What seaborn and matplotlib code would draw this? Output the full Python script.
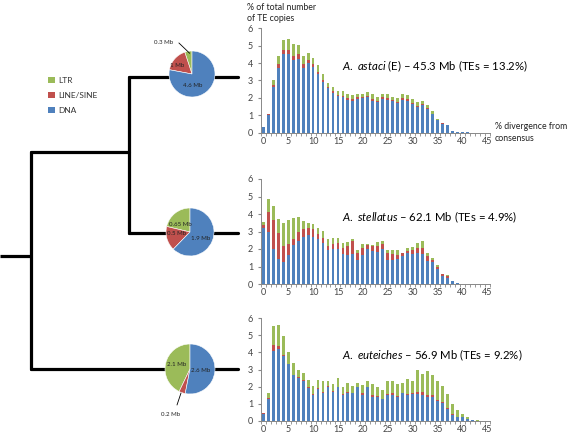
import numpy as np
import pandas as pd
import matplotlib
matplotlib.use("Agg")
import matplotlib.pyplot as plt
import seaborn as sns
from matplotlib.patches import Patch

# ---- data -------------------------------------------------------------
divergence = list(range(46))
classes = ["LTR", "LINE/SINE", "DNA"]
colors = {"LTR": "#9BBB59", "LINE/SINE": "#C0504D", "DNA": "#4F81BD"}

astaci_dna = [0.3, 1.0, 2.6, 3.7, 4.5, 4.5, 4.2, 4.25, 3.7, 4.0, 3.8, 3.35, 2.9, 2.55, 2.3, 2.1,
              2.05, 1.9, 1.85, 1.95, 2.0, 2.05, 1.85, 1.75, 1.95, 1.9, 1.8, 1.7, 1.9, 1.85, 1.65,
              1.5, 1.6, 1.35, 1.05, 0.72, 0.52, 0.43, 0.1, 0.05, 0.05, 0.02, 0.01, 0.01, 0.01, 0.01]
astaci_line = [0, 0.05, 0.15, 0.25, 0.25, 0.25, 0.2, 0.25, 0.25, 0.2, 0.15, 0.15, 0.1, 0.08, 0.08, 0.08,
               0.08, 0.08, 0.08, 0.08, 0.08, 0.08, 0.08, 0.08, 0.08, 0.08, 0.08, 0.08, 0.08, 0.08, 0.08,
               0.06, 0.06, 0.06, 0.05, 0.03, 0.01, 0.01, 0, 0, 0, 0, 0, 0, 0, 0]
astaci_ltr = [0, 0.05, 0.25, 0.45, 0.55, 0.65, 0.7, 0.55, 0.45, 0.4, 0.35, 0.4, 0.35, 0.22, 0.27, 0.22,
              0.27, 0.22, 0.22, 0.22, 0.17, 0.22, 0.32, 0.22, 0.17, 0.22, 0.17, 0.22, 0.27, 0.22, 0.22,
              0.19, 0.19, 0.19, 0.15, 0.05, 0.02, 0.01, 0, 0, 0, 0, 0, 0, 0, 0]

stellatus_dna = [3.2, 3.0, 2.0, 1.45, 1.25, 1.65, 2.25, 2.45, 2.7, 2.8, 2.7, 2.55, 2.35, 1.95, 2.0, 2.0,
                 1.7, 1.65, 1.7, 1.4, 1.65, 2.0, 1.9, 1.85, 2.0, 1.4, 1.4, 1.45, 1.6, 1.8, 1.7,
                 1.8, 1.7, 1.3, 1.25, 0.85, 0.45, 0.35, 0.15, 0.04, 0.02, 0.01, 0.01, 0.01, 0.01, 0.01]
stellatus_line = [0.2, 1.1, 1.65, 1.45, 0.95, 0.65, 0.3, 0.5, 0.45, 0.4, 0.45, 0.3, 0.3, 0.25, 0.3, 0.35,
                  0.35, 0.5, 0.75, 0.4, 0.4, 0.25, 0.3, 0.3, 0.3, 0.35, 0.3, 0.2, 0.15, 0.1, 0.25,
                  0.25, 0.35, 0.3, 0.15, 0.15, 0.1, 0.1, 0.03, 0, 0, 0, 0, 0, 0, 0]
stellatus_ltr = [0.15, 0.75, 0.8, 0.8, 1.3, 1.35, 1.2, 0.9, 0.45, 0.3, 0.3, 0.35, 0.4, 0.4, 0.35, 0.3,
                 0.3, 0.25, 0.15, 0.15, 0.25, 0.05, 0.05, 0.25, 0.15, 0.2, 0.25, 0.3, 0.05, 0.15, 0.15,
                 0.3, 0.4, 0.2, 0.1, 0.1, 0.05, 0.05, 0.02, 0, 0, 0, 0, 0, 0, 0]

euteiches_dna = [0.4, 1.25, 4.1, 4.2, 3.8, 3.3, 2.65, 2.5, 2.35, 1.9, 1.5, 1.85, 1.65, 2.0, 1.7, 1.95,
                 1.5, 1.6, 1.6, 1.95, 1.5, 1.95, 1.4, 1.4, 1.25, 1.5, 1.5, 1.4, 1.6, 1.5, 1.55,
                 1.55, 1.5, 1.4, 1.4, 1.15, 1.05, 0.7, 0.35, 0.2, 0.2, 0.1, 0.03, 0.01, 0.01, 0.01]
euteiches_line = [0.05, 0.1, 0.35, 0.15, 0.05, 0.05, 0.05, 0.05, 0.05, 0.05, 0.05, 0.05, 0.05, 0.05, 0.05, 0.05,
                  0.07, 0.07, 0.05, 0.05, 0.1, 0.05, 0.1, 0.05, 0.05, 0.07, 0.1, 0.05, 0.05, 0.05, 0.05,
                  0.15, 0.2, 0.1, 0.1, 0.05, 0.05, 0.03, 0.02, 0.01, 0.01, 0, 0, 0, 0, 0]
euteiches_ltr = [0, 0.3, 1.1, 1.25, 1.1, 0.65, 0.7, 0.45, 0.4, 0.45, 0.5, 0.5, 0.6, 0.3, 0.4, 0.5,
                 0.43, 0.53, 0.4, 0.2, 0.5, 0.35, 0.65, 0.55, 0.5, 0.73, 0.75, 0.7, 0.55, 0.9, 0.7,
                 1.3, 1.05, 1.4, 1.15, 1.1, 0.95, 0.82, 0.58, 0.39, 0.19, 0.1, 0.02, 0.01, 0, 0]

# genome share in Mb per class (LTR, LINE/SINE, DNA)
astaci_mb = [0.3, 1.0, 4.6]
stellatus_mb = [0.65, 0.5, 1.9]
euteiches_mb = [2.1, 0.2, 2.6]
astaci_pie_labels = ["0.3 Mb", "1 Mb", "4.6 Mb"]
stellatus_pie_labels = ["0.65 Mb", "0.5 Mb", "1.9 Mb"]
euteiches_pie_labels = ["2.1 Mb", "0.2 Mb", "2.6 Mb"]

titles = [r"$\mathit{A.\ astaci}$ (E) – 45.3 Mb (TEs = 13.2%)",
          r"$\mathit{A.\ stellatus}$ – 62.1 Mb (TEs = 4.9%)",
          r"$\mathit{A.\ euteiches}$ – 56.9 Mb (TEs = 9.2%)"]

# ---- style ------------------------------------------------------------
sns.set_style("white")
plt.rcParams["font.family"] = ["Lato", "DejaVu Sans"]
plt.rcParams["mathtext.fontset"] = "custom"
plt.rcParams["mathtext.it"] = "Lato:italic"
plt.rcParams["mathtext.rm"] = "Lato"

W, H = 567, 437
fig = plt.figure(figsize=(W / 100, H / 100), dpi=100)

# background axes in pixel units for tree, legend and labels
bg = fig.add_axes([0, 0, 1, 1], zorder=0)
bg.set_xlim(0, W)
bg.set_ylim(H, 0)
bg.axis("off")

# tree (pixel layout)
tip_y = [77, 233, 369]
inner_x, root_x, tip_x = 129, 31, 238
inner_y = 152
root_y = 256
lw = 2.3
bg.plot([0, root_x], [root_y, root_y], color="black", lw=lw, solid_capstyle="butt")
bg.plot([root_x, root_x], [inner_y, tip_y[2]], color="black", lw=lw)
bg.plot([root_x, inner_x], [inner_y, inner_y], color="black", lw=lw)
bg.plot([inner_x, inner_x], [tip_y[0], tip_y[1]], color="black", lw=lw)
bg.plot([inner_x, tip_x], [tip_y[0], tip_y[0]], color="black", lw=lw)
bg.plot([inner_x, tip_x], [tip_y[1], tip_y[1]], color="black", lw=lw)
bg.plot([root_x, tip_x], [tip_y[2], tip_y[2]], color="black", lw=lw)

# legend
handles = [Patch(facecolor=colors[c], edgecolor="none", label=c) for c in classes]
fig.legend(handles=handles, loc="upper left", bbox_to_anchor=(48 / W, 1 - 77 / H),
           frameon=False, fontsize=6.0, handlelength=0.8, handleheight=0.8,
           handletextpad=0.4, labelspacing=0.95, borderpad=0, borderaxespad=0,
           labelcolor="#333333")

# pies: centre / radius in pixels, label positions in pie units, leader lines
pie_specs = [
    (astaci_mb, astaci_pie_labels, (192, 74), 23,
     [(-1.25, 1.35), (-0.65, 0.35), (0.04, -0.48)], {0: ((-0.57, 1.35), (-0.1, 0.9))}),
    (stellatus_mb, stellatus_pie_labels, (190, 232), 24,
     [(-0.42, 0.33), (-0.58, -0.08), (0.46, -0.25)], {}),
    (euteiches_mb, euteiches_pie_labels, (190, 369), 25,
     [(-0.52, 0.16), (-0.76, -1.8), (0.44, -0.04)], {1: ((-0.52, -1.44), (-0.36, -0.96))}),
]
for sizes, labels, (cx, cy), r, label_pos, leaders in pie_specs:
    pax = fig.add_axes([(cx - r) / W, 1 - (cy + r) / H, 2 * r / W, 2 * r / H], zorder=2)
    pax.pie(sizes, colors=[colors[c] for c in classes], startangle=90, counterclock=True,
            radius=1, wedgeprops=dict(linewidth=0.4, edgecolor="white"))
    pax.set_xlim(-1, 1)
    pax.set_ylim(-1, 1)
    for lab, (px, py) in zip(labels, label_pos):
        pax.text(px, py, lab, fontsize=4.4, ha="center", va="center", color="#222222")
    for a, b in leaders.values():
        pax.plot([a[0], b[0]], [a[1], b[1]], color="black", lw=0.6, clip_on=False)

# bar panels
panels = [
    (astaci_dna, astaci_line, astaci_ltr, 132.7, 104.4),
    (stellatus_dna, stellatus_line, stellatus_ltr, 284.0, 105.0),
    (euteiches_dna, euteiches_line, euteiches_ltr, 420.7, 102.4),
]
left_px, width_px = 260.7, 229.3
for k, (dna, line, ltr, base_px, h_px) in enumerate(panels):
    ax = fig.add_axes([left_px / W, 1 - base_px / H, width_px / W, h_px / H], zorder=1)
    df = pd.DataFrame({"div": divergence, "DNA": dna, "LINE/SINE": line, "LTR": ltr})
    df["top_ltr"] = df["DNA"] + df["LINE/SINE"] + df["LTR"]
    df["top_line"] = df["DNA"] + df["LINE/SINE"]
    for col, cls in [("top_ltr", "LTR"), ("top_line", "LINE/SINE"), ("DNA", "DNA")]:
        sns.barplot(data=df, x="div", y=col, color=colors[cls], saturation=1,
                    width=0.58, errorbar=None, ax=ax, order=divergence,
                    linewidth=0, edgecolor="none")
    ax.set_xlim(-0.5, 45.5)
    ax.set_ylim(0, 6)
    ax.set_yticks(range(0, 7))
    ax.set_xticks(range(0, 46, 5))
    ax.set_xticklabels([str(v) for v in range(0, 46, 5)])
    ax.set_xticks(np.arange(-0.5, 46, 1), minor=True)
    ax.set_xlabel("")
    ax.set_ylabel("")
    for s in ["top", "right"]:
        ax.spines[s].set_visible(False)
    for s in ["left", "bottom"]:
        ax.spines[s].set_color("#888888")
        ax.spines[s].set_linewidth(0.7)
    ax.patch.set_alpha(0)
    ax.tick_params(axis="both", which="major", labelsize=6.5, colors="#444444",
                   length=0, pad=3)
    ax.tick_params(axis="y", which="major", length=2.5, color="#888888", direction="out", left=True)
    ax.tick_params(axis="x", which="minor", length=2, color="#888888", direction="out", bottom=True)
    ax.text(0.355, 0.64, titles[k], transform=ax.transAxes, fontsize=8.2,
            ha="left", va="center", color="black")
    if k == 0:
        ax.text(-0.06, 1.24, "% of total number\nof TE copies", transform=ax.transAxes,
                fontsize=6.3, ha="left", va="top", linespacing=1.3, color="#222222")
        ax.text(1.02, 0.0, "% divergence from\nconsensus", transform=ax.transAxes,
                fontsize=6.3, ha="left", va="center", linespacing=1.5, color="#222222")

fig.savefig("out.png", dpi=100)
